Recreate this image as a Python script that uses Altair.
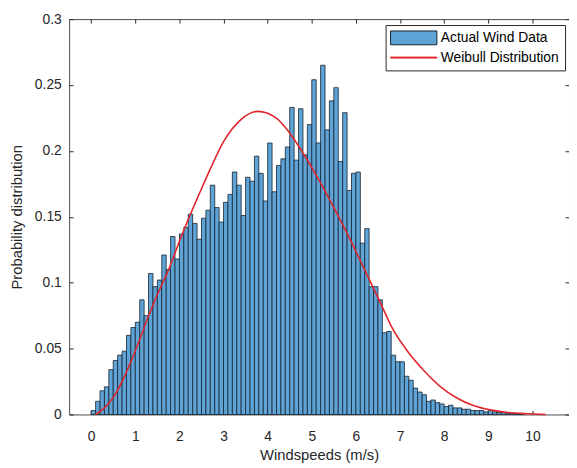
import altair as alt
import pandas as pd

# ---------------- data ----------------
BIN_WIDTH = 0.1
density = [
    0.003, 0.010, 0.018, 0.021, 0.034, 0.041, 0.045, 0.048, 0.060, 0.066,
    0.070, 0.087, 0.075, 0.107, 0.097, 0.102, 0.121, 0.110, 0.135, 0.118,
    0.137, 0.142, 0.152, 0.145, 0.133, 0.149, 0.155, 0.174, 0.157, 0.146,
    0.161, 0.167, 0.184, 0.174, 0.151, 0.180, 0.177, 0.196, 0.183, 0.162,
    0.206, 0.169, 0.189, 0.194, 0.203, 0.233, 0.193, 0.232, 0.197, 0.220,
    0.254, 0.206, 0.265, 0.216, 0.238, 0.248, 0.192, 0.229, 0.170, 0.183,
    0.184, 0.130, 0.141, 0.097, 0.097, 0.087, 0.062, 0.063, 0.045, 0.040,
    0.040, 0.029, 0.026, 0.020, 0.017, 0.015, 0.010, 0.011, 0.009, 0.008,
    0.006, 0.007, 0.005, 0.005, 0.004, 0.004, 0.003, 0.003, 0.003, 0.002,
    0.003, 0.002, 0.0015, 0.0015, 0.001, 0.001, 0.0005, 0.0005,
]
bin_start = [round(i * BIN_WIDTH, 1) for i in range(len(density))]

curve_x = [0.10, 0.30, 0.50, 0.70, 0.90, 1.10, 1.28, 1.50, 1.73, 2.10, 2.47,
           2.75, 3.00, 3.40, 3.78, 4.19, 4.49, 4.79, 5.16, 5.53, 5.91, 6.28,
           6.58, 6.80, 7.17, 7.55, 7.92, 8.29, 8.66, 9.04, 9.41, 9.93, 10.30]
curve_y = [0.000, 0.005, 0.013, 0.025, 0.040, 0.057, 0.073, 0.091, 0.108,
           0.140, 0.169, 0.190, 0.207, 0.224, 0.230, 0.225, 0.214, 0.199,
           0.178, 0.155, 0.130, 0.104, 0.083, 0.067, 0.048, 0.033, 0.021,
           0.0125, 0.0068, 0.0035, 0.0016, 0.0005, 0.0]

series_names = ["Actual Wind Data", "Weibull Distribution"]
x_ticks = [0, 1, 2, 3, 4, 5, 6, 7, 8, 9, 10]
y_ticks = [0, 0.05, 0.1, 0.15, 0.2, 0.25, 0.3]

# ---------------- styling ----------------
BAR_FILL = "#5fa4d6"
BAR_EDGE = "#15212e"
LINE_COLOR = "#e0262c"
AXIS_COLOR = "#262626"
FONT = "Liberation Sans"
RECT_PATH = "M-5.2,-1.4H4.2V1.4H-5.2Z"
LINE_PATH = "M-5.2,-0.1H4.2V0.1H-5.2Z"

bars_df = pd.DataFrame({"bin_start": bin_start, "density": density})
curve_df = pd.DataFrame({"speed": curve_x, "pdf": curve_y})
legend_df = pd.DataFrame({"series": series_names})

x_scale = alt.Scale(domain=[-0.5, 10.83], nice=False, zero=False)
y_scale = alt.Scale(domain=[0, 0.3], nice=False)

bars = alt.Chart(bars_df).transform_calculate(
    bin_end=f"datum.bin_start + {BIN_WIDTH}"
).mark_bar(fill=BAR_FILL, stroke=BAR_EDGE, strokeWidth=0.8, opacity=1).encode(
    x=alt.X("bin_start:Q", scale=x_scale,
            axis=alt.Axis(orient="bottom", values=x_ticks, title="Windspeeds (m/s)",
                          domain=False, grid=False, offset=-4, tickSize=4,
                          labelPadding=15, titlePadding=5)),
    x2="bin_end:Q",
    y=alt.Y("density:Q", scale=y_scale,
            axis=alt.Axis(orient="left", values=y_ticks, format="~g",
                          title="Probability distribution",
                          domain=False, grid=False, offset=-4, tickSize=4,
                          labelPadding=8, titlePadding=10)),
    y2=alt.datum(0),
)

curve = alt.Chart(curve_df).mark_line(
    color=LINE_COLOR, strokeWidth=1.6, interpolate="monotone"
).encode(
    x=alt.X("speed:Q", scale=x_scale,
            axis=alt.Axis(orient="top", values=x_ticks, labels=False, title="",
                          domain=False, grid=False, offset=-4, tickSize=4)),
    y=alt.Y("pdf:Q", scale=y_scale,
            axis=alt.Axis(orient="right", values=y_ticks, labels=False, title="",
                          domain=False, grid=False, offset=-4, tickSize=4)),
)

legend_props = dict(
    title=None, orient="none", legendX=321, legendY=6, padding=6,
    strokeColor=AXIS_COLOR, fillColor="white", symbolSize=100,
    symbolStrokeWidth=1, symbolOffset=18, labelOffset=18,
    labelFont=FONT, labelFontSize=14, labelColor="#000000", rowPadding=4,
)

legend_layer = alt.Chart(legend_df).transform_filter("false").mark_point(
    opacity=1, filled=True
).encode(
    fill=alt.Fill("series:N", scale=alt.Scale(domain=series_names, range=[BAR_FILL, LINE_COLOR]),
                  legend=alt.Legend(**legend_props)),
    stroke=alt.Stroke("series:N", scale=alt.Scale(domain=series_names, range=[BAR_EDGE, LINE_COLOR]),
                      legend=alt.Legend(**legend_props)),
    shape=alt.Shape("series:N", scale=alt.Scale(domain=series_names, range=[RECT_PATH, LINE_PATH]),
                    legend=alt.Legend(**legend_props)),
)

chart = alt.layer(bars, curve, legend_layer).resolve_axis(
    x="independent", y="independent"
).properties(
    width=507, height=401,
    padding={"left": 62, "top": 8, "right": 0, "bottom": 52},
    autosize=alt.AutoSizeParams(type="none"),
).configure_view(
    stroke="#4a4a4a", strokeWidth=1
).configure_axis(
    labelFont=FONT, labelFontSize=14, labelColor=AXIS_COLOR,
    titleFont=FONT, titleFontSize=15, titleColor=AXIS_COLOR, titleFontWeight="normal",
    tickColor=AXIS_COLOR, tickWidth=1,
)

chart.save("out.html", embed_options={"renderer": "svg", "actions": False})
